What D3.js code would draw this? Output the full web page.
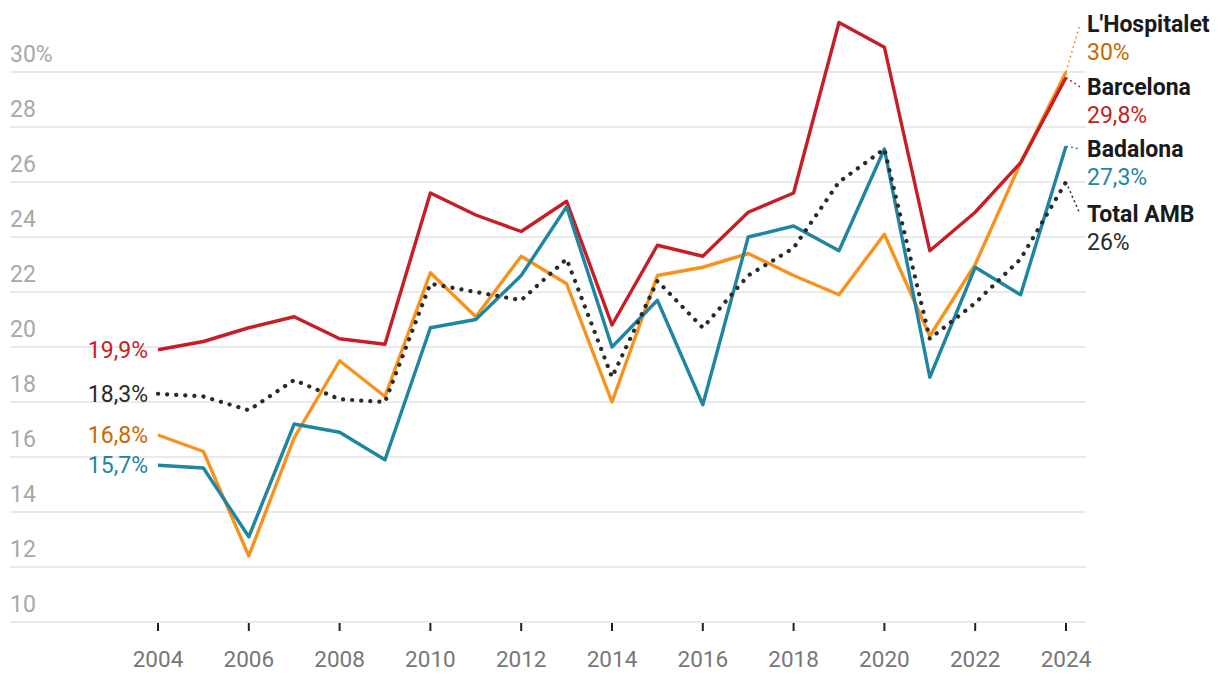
<!DOCTYPE html>
<meta charset="utf-8">
<script src="https://d3js.org/d3.v7.min.js"></script>
<style>
  body { margin: 0; background: #fff; }
  text { font-family: Roboto, "Noto Sans", sans-serif; }
</style>
<div id="chart"></div>
<script>

// years on the x axis
const years = d3.range(2004, 2025);

// values (% per year)
const barcelona   = [19.9, 20.2, 20.7, 21.1, 20.3, 20.1, 25.6, 24.8, 24.2, 25.3, 20.8, 23.7, 23.3, 24.9, 25.6, 31.8, 30.9, 23.5, 24.9, 26.7, 29.8];
const hospitalet  = [16.8, 16.2, 12.4, 16.7, 19.5, 18.2, 22.7, 21.1, 23.3, 22.3, 18.0, 22.6, 22.9, 23.4, 22.6, 21.9, 24.1, 20.4, 23.0, 26.7, 30.0];
const badalona    = [15.7, 15.6, 13.1, 17.2, 16.9, 15.9, 20.7, 21.0, 22.6, 25.1, 20.0, 21.7, 17.9, 24.0, 24.4, 23.5, 27.2, 18.9, 22.9, 21.9, 27.3];
const totalAMB    = [18.3, 18.2, 17.7, 18.8, 18.1, 18.0, 22.3, 22.0, 21.7, 23.2, 18.9, 22.4, 20.7, 22.6, 23.6, 26.0, 27.2, 20.3, 21.6, 23.2, 26.0];

const yTicks = [10, 12, 14, 16, 18, 20, 22, 24, 26, 28, 30];
const xTicks = [2004, 2006, 2008, 2010, 2012, 2014, 2016, 2018, 2020, 2022, 2024];

const series = [
  {name: "L'Hospitalet", values: hospitalet, color: "#f7921e", label: "#c86a00", first: "16,8%", last: "30%", dotted: false},
  {name: "Barcelona",    values: barcelona,  color: "#c71d24", label: "#c71d24", first: "19,9%", last: "29,8%", dotted: false},
  {name: "Badalona",     values: badalona,   color: "#1f86a2", label: "#1f86a2", first: "15,7%", last: "27,3%", dotted: false},
  {name: "Total AMB",    values: totalAMB,   color: "#2a2a2a", label: "#2a2a2a", first: "18,3%", last: "26%", dotted: true}
];
// order the end labels go down the right side
const endOrder = ["L'Hospitalet", "Barcelona", "Badalona", "Total AMB"];

const W = 1220, H = 682;
const svg = d3.select("#chart").append("svg")
  .attr("width", W).attr("height", H);

const x = d3.scaleLinear().domain([2004, 2024]).range([158, 1066]);
const y = d3.scaleLinear().domain([10, 30]).range([622, 72]);

// gridlines + y labels
svg.append("g").selectAll("line")
  .data(yTicks)
  .join("line")
    .attr("x1", 10).attr("x2", 1086)
    .attr("y1", d => y(d)).attr("y2", d => y(d))
    .attr("stroke", "#e3e3e3").attr("stroke-width", 1.5);

svg.append("g").selectAll("text")
  .data(yTicks)
  .join("text")
    .attr("x", 10)
    .attr("y", d => y(d) - 10)
    .attr("fill", "#a8a8a8")
    .style("font-size", "23px")
    .text(d => d === 30 ? "30%" : d);

// x axis ticks + labels
const xg = svg.append("g");
xg.selectAll("line")
  .data(xTicks)
  .join("line")
    .attr("x1", d => x(d)).attr("x2", d => x(d))
    .attr("y1", 623).attr("y2", 631)
    .attr("stroke", "#222").attr("stroke-width", 2);
xg.selectAll("text")
  .data(xTicks)
  .join("text")
    .attr("x", d => x(d))
    .attr("y", 667)
    .attr("text-anchor", "middle")
    .attr("fill", "#777")
    .style("font-size", "22.5px")
    .text(d => d);

const line = d3.line()
  .x((d, i) => x(years[i]))
  .y(d => y(d));

// lines
series.forEach(s => {
  const p = svg.append("path")
    .datum(s.values)
    .attr("d", line)
    .attr("fill", "none")
    .attr("stroke", s.color)
    .attr("stroke-width", 3.4)
    .attr("stroke-linejoin", "round");
  if (s.dotted) {
    p.attr("stroke-dasharray", "0.1 9")
     .attr("stroke-linecap", "round")
     .attr("stroke-width", 4.2);
  }
});

// start labels
series.forEach(s => {
  svg.append("text")
    .attr("x", x(2004) - 10)
    .attr("y", y(s.values[0]))
    .attr("dy", "0.35em")
    .attr("text-anchor", "end")
    .attr("fill", s.label)
    .style("font-size", "23px")
    .text(s.first);
});

// end labels with little dotted connectors
const nameBaselines = [32, 95, 157, 222];
endOrder.forEach((n, i) => {
  const s = series.find(d => d.name === n);
  const vLast = s.values[s.values.length - 1];
  const by = nameBaselines[i];
  svg.append("line")
    .attr("x1", x(2024)).attr("y1", y(vLast))
    .attr("x2", 1080).attr("y2", by - 8)
    .attr("stroke", s.color)
    .attr("stroke-width", 1.5)
    .attr("stroke-dasharray", "2 3");
  svg.append("text")
    .attr("x", 1087).attr("y", by)
    .attr("fill", "#1a1a1a")
    .style("font-size", "23px")
    .style("font-weight", "bold")
    .text(s.name);
  svg.append("text")
    .attr("x", 1087).attr("y", by + 28)
    .attr("fill", s.label)
    .style("font-size", "23px")
    .text(s.last);
});

</script>
